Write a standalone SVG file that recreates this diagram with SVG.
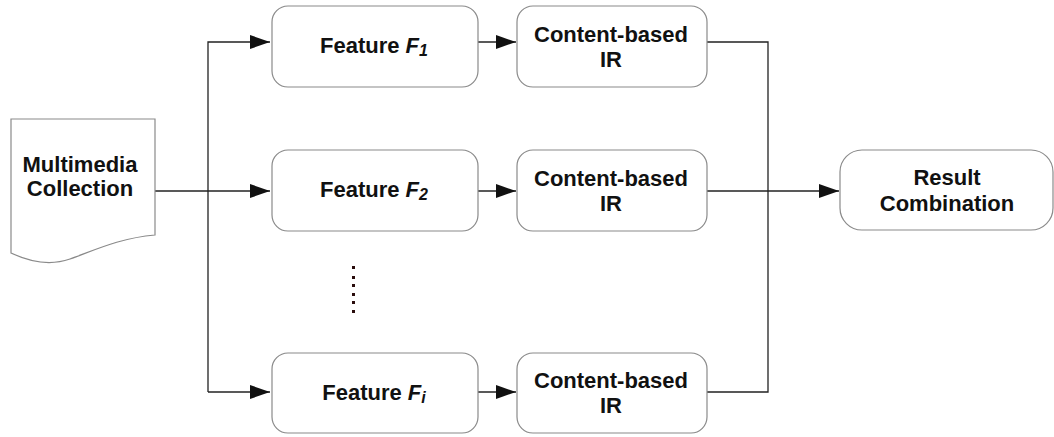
<svg xmlns="http://www.w3.org/2000/svg" width="1054" height="437" viewBox="0 0 1054 437">
<style>
.box{fill:#fff;stroke:#8a8a8a;stroke-width:1.2}
.lbl{font-family:"Liberation Sans",Arial,sans-serif;font-weight:bold;font-size:22px;fill:#111;text-anchor:middle}
.sub{font-size:16px;font-style:italic}
.it{font-style:italic}
.conn{fill:none;stroke:#222;stroke-width:1.3}
</style>
<defs>
<marker id="ah" markerWidth="20" markerHeight="14" refX="20" refY="7" orient="auto" markerUnits="userSpaceOnUse">
<path d="M0,0 L20,7 L0,14 Z" fill="#111"/>
</marker>
</defs>
<rect width="1054" height="437" fill="#fff"/>
<g id="connectors">
<path class="conn" d="M155,191 H270" marker-end="url(#ah)"/>
<path class="conn" d="M208,392 V42 H270" marker-end="url(#ah)"/>
<path class="conn" d="M208,392 H270" marker-end="url(#ah)"/>
<path class="conn" d="M478,42 H516" marker-end="url(#ah)"/>
<path class="conn" d="M478,191 H516" marker-end="url(#ah)"/>
<path class="conn" d="M478,392 H516" marker-end="url(#ah)"/>
<path class="conn" d="M707,42 H768 V392 H707"/>
<path class="conn" d="M707,191 H839" marker-end="url(#ah)"/>
</g>
<g id="multimedia">
<path class="box" d="M11,119 H155 V235 C120,238 95,250 70,259 C50,266 30,262 11,253 Z"/>
<text class="lbl" x="80" y="172">Multimedia</text>
<text class="lbl" x="80" y="196">Collection</text>
</g>
<g id="feature1">
<rect class="box" x="272" y="6" width="206" height="81" rx="16"/>
<text class="lbl" x="374" y="53">Feature <tspan class="it">F</tspan><tspan class="sub" dy="3">1</tspan></text>
</g>
<g id="feature2">
<rect class="box" x="272" y="150" width="206" height="81" rx="16"/>
<text class="lbl" x="374" y="197">Feature <tspan class="it">F</tspan><tspan class="sub" dy="3">2</tspan></text>
</g>
<g id="featurei">
<rect class="box" x="272" y="353" width="206" height="80" rx="16"/>
<text class="lbl" x="374" y="400">Feature <tspan class="it">F</tspan><tspan class="sub" dy="3">i</tspan></text>
</g>
<g id="cbir1">
<rect class="box" x="517" y="6" width="190" height="81" rx="16"/>
<text class="lbl" x="611" y="42">Content-based</text>
<text class="lbl" x="611" y="67">IR</text>
</g>
<g id="cbir2">
<rect class="box" x="517" y="150" width="190" height="81" rx="16"/>
<text class="lbl" x="611" y="186">Content-based</text>
<text class="lbl" x="611" y="211">IR</text>
</g>
<g id="cbiri">
<rect class="box" x="517" y="353" width="190" height="80" rx="16"/>
<text class="lbl" x="611" y="388">Content-based</text>
<text class="lbl" x="611" y="413">IR</text>
</g>
<g id="result">
<rect class="box" x="840" y="150" width="213" height="80" rx="22"/>
<text class="lbl" x="947" y="185">Result</text>
<text class="lbl" x="947" y="211">Combination</text>
</g>
<g id="dots" fill="#2a0d0d">
<rect x="352" y="266" width="3" height="3"/>
<rect x="352" y="276" width="3" height="3"/>
<rect x="352" y="284" width="3" height="3"/>
<rect x="352" y="293" width="3" height="3"/>
<rect x="352" y="301" width="3" height="3"/>
<rect x="352" y="310" width="3" height="3"/>
</g>
</svg>
